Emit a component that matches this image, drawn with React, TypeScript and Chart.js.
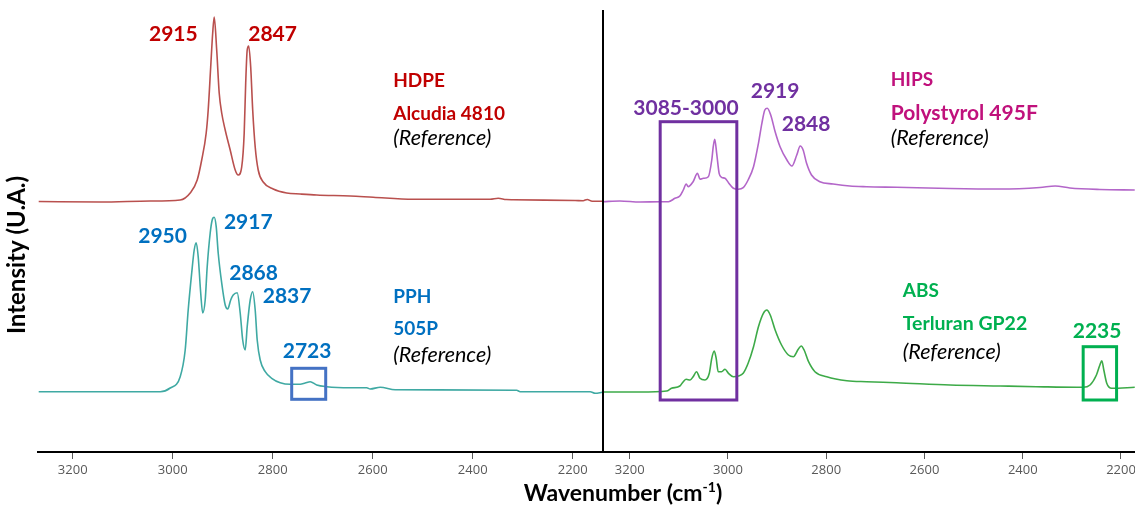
import React, { useEffect, useRef } from "react";
import { Chart, registerables } from "chart.js";

Chart.register(...registerables);

// ---- Data (wavenumber cm-1, intensity a.u.) ----
const hdpeWavenumber = [3268, 3145, 3045, 2985, 2965, 2951, 2942, 2933, 2929, 2924, 2920, 2917, 2912, 2907, 2902, 2895, 2885, 2875, 2869, 2862, 2857, 2854, 2851, 2848, 2844, 2840, 2835, 2829, 2819, 2799, 2772, 2745, 2712, 2645, 2599, 2519, 2365, 2349, 2333, 2319, 2195, 2179, 2171, 2161, 2141];
const hdpeIntensity = [249.5, 249, 250, 251, 258, 271, 291, 318, 341, 384, 418, 434, 401, 358, 338, 321, 301, 281, 276, 284, 318, 368, 401, 405, 384, 341, 304, 281, 269, 262, 258, 257, 256, 255, 253.7, 251.7, 251.7, 252.7, 251.5, 251.3, 250.5, 250.3, 251.5, 249.7, 249.7];

const pphWavenumber = [3268, 3145, 3025, 3005, 2985, 2975, 2969, 2962, 2957, 2953, 2949, 2944, 2940, 2935, 2931, 2925, 2921, 2917, 2913, 2909, 2902, 2895, 2890, 2884, 2879, 2871, 2865, 2860, 2855, 2851, 2845, 2840, 2835, 2831, 2825, 2815, 2802, 2785, 2765, 2745, 2735, 2725, 2712, 2692, 2645, 2612, 2605, 2585, 2555, 2312, 2305, 2165, 2155, 2141];
const pphIntensity = [59.3, 59.3, 59.3, 63, 74.3, 101, 141, 178, 201, 208.3, 194.3, 158, 138, 151, 184.3, 218, 231, 233.7, 224.3, 198, 168, 146, 142, 151, 156, 158.3, 138, 111, 101, 124.3, 151, 159.3, 141, 111, 91, 79.3, 72.7, 68.3, 66.7, 66.7, 68, 69.3, 66, 64.3, 63.3, 63.3, 62, 63.7, 61.3, 60.7, 59.3, 59.3, 57.7, 58.7];

const hipsWavenumber = [3254, 3220, 3179, 3138, 3121, 3108, 3098, 3091, 3085, 3081, 3071, 3062, 3057, 3050, 3040, 3033, 3030, 3027, 3023, 3018, 3013, 3006, 2999, 2989, 2979, 2969, 2959, 2948, 2938, 2931, 2925, 2920, 2913, 2904, 2894, 2880, 2870, 2860, 2853, 2847, 2840, 2830, 2813, 2786, 2752, 2718, 2657, 2548, 2446, 2365, 2334, 2304, 2243, 2172];
const hipsIntensity = [249.3, 250, 249, 249.3, 249.3, 252.7, 255, 261, 267, 264.3, 269.3, 277.7, 271.7, 272.7, 274.3, 291, 304.3, 311.7, 297.7, 277.7, 273.7, 272.7, 268.3, 262.7, 261.7, 263.3, 271, 284.3, 307.7, 327.7, 341, 342.7, 336, 319.3, 304.3, 291, 285, 296, 305, 301, 287.7, 276, 269.3, 267, 265, 264.3, 263.7, 262.5, 262, 263.5, 265, 263, 261.5, 261];

const absWavenumber = [3254, 3179, 3125, 3115, 3098, 3091, 3085, 3077, 3071, 3064, 3057, 3047, 3038, 3033, 3028, 3024, 3020, 3013, 3006, 2999, 2989, 2979, 2969, 2959, 2948, 2938, 2928, 2921, 2914, 2904, 2891, 2877, 2867, 2857, 2851, 2845, 2836, 2823, 2799, 2758, 2718, 2657, 2548, 2446, 2372, 2290, 2277, 2263, 2250, 2243, 2239, 2235, 2229, 2219, 2172];
const absIntensity = [59, 59, 60, 62.7, 65, 69.3, 71.7, 71, 74.3, 79.3, 72.7, 71, 77.7, 92.7, 100, 92.7, 79.3, 79.3, 81.7, 77.7, 74.3, 75, 77.7, 87.7, 104.3, 124.3, 137.7, 141, 136, 121, 106, 96, 94.3, 101.7, 105, 101, 89.3, 79.3, 74.3, 70.3, 69.3, 68.3, 66, 65, 64.3, 63.7, 63.7, 66, 76, 86, 90.3, 81, 67.7, 62.7, 63.7];

const xTickValues = [3200, 3000, 2800, 2600, 2400, 2200];
const leftRange = { min: 2139.4, max: 3269.4 };
const rightRange = { min: 2171.5, max: 3254.4 };
const yRange = { min: -1, max: 441 };

// ---- Annotations (anchored in data coordinates) ----
const RED = "#c00000";
const BLUE = "#0070c0";
const PURPLE = "#7030a0";
const MAGENTA = "#c0117c";
const GREEN = "#00b050";
const BLACK = "#000000";

const textLabels = [
  { text: "2915", axis: "xL", wn: 3047.5, y: 410, color: RED, size: 21, bold: true },
  { text: "2847", axis: "xL", wn: 2849, y: 410, color: RED, size: 21, bold: true },
  { text: "HDPE", axis: "xL", wn: 2559, y: 364.3, color: RED, size: 19, bold: true },
  { text: "Alcudia 4810", axis: "xL", wn: 2559, y: 331, color: RED, size: 19, bold: true },
  { text: "(Reference)", axis: "xL", wn: 2559, y: 306, color: BLACK, size: 21.5, italic: true },
  { text: "2950", axis: "xL", wn: 3069, y: 208.3, color: BLUE, size: 21, bold: true },
  { text: "2917", axis: "xL", wn: 2897.6, y: 221.7, color: BLUE, size: 21, bold: true },
  { text: "2868", axis: "xL", wn: 2887, y: 171, color: BLUE, size: 21, bold: true },
  { text: "2837", axis: "xL", wn: 2820, y: 148.3, color: BLUE, size: 21, bold: true },
  { text: "2723", axis: "xL", wn: 2780, y: 92.7, color: BLUE, size: 21, bold: true },
  { text: "PPH", axis: "xL", wn: 2559, y: 147.7, color: BLUE, size: 19, bold: true },
  { text: "505P", axis: "xL", wn: 2559, y: 116, color: BLUE, size: 19, bold: true },
  { text: "(Reference)", axis: "xL", wn: 2559, y: 89, color: BLACK, size: 21.5, italic: true },
  { text: "3085-3000", axis: "xR", wn: 3192.7, y: 336, color: PURPLE, size: 21, bold: true },
  { text: "2919", axis: "xR", wn: 2953.7, y: 353.3, color: PURPLE, size: 21, bold: true },
  { text: "2848", axis: "xR", wn: 2890.6, y: 320.3, color: PURPLE, size: 21, bold: true },
  { text: "HIPS", axis: "xR", wn: 2668.8, y: 365, color: MAGENTA, size: 19, bold: true },
  { text: "Polystyrol 495F", axis: "xR", wn: 2668.8, y: 331.5, color: MAGENTA, size: 21, bold: true },
  { text: "(Reference)", axis: "xR", wn: 2668.8, y: 306, color: BLACK, size: 21.5, italic: true },
  { text: "ABS", axis: "xR", wn: 2644.3, y: 153.7, color: GREEN, size: 19, bold: true },
  { text: "Terluran GP22", axis: "xR", wn: 2644.3, y: 121, color: GREEN, size: 19.5, bold: true },
  { text: "(Reference)", axis: "xR", wn: 2644.3, y: 91.7, color: BLACK, size: 21.5, italic: true },
  { text: "2235", axis: "xR", wn: 2298.3, y: 112.7, color: GREEN, size: 21, bold: true },
];

const highlightBoxes = [
  { axis: "xL", wn1: 2762, wn2: 2694, y1: 82.7, y2: 51.7, color: "#4472c4" },
  { axis: "xR", wn1: 3138, wn2: 2982, y1: 329.3, y2: 51, color: "#7030a0" },
  { axis: "xR", wn1: 2277, wn2: 2209, y1: 104.3, y2: 51, color: "#00b050" },
];

const FONT = "Lato, 'Open Sans', sans-serif";

const toPoints = (xs: number[], ys: number[]) => xs.map((x, i) => ({ x, y: ys[i] }));

const overlayPlugin = {
  id: "overlay",
  afterDatasetsDraw(chart: any) {
    const { ctx, chartArea, scales } = chart;
    const yS = scales.y;
    ctx.save();
    // divider between the two panels
    const xr = scales.xR;
    ctx.strokeStyle = "#000";
    ctx.lineWidth = 2;
    ctx.beginPath();
    ctx.moveTo(xr.left, chartArea.top);
    ctx.lineTo(xr.left, chartArea.bottom);
    ctx.stroke();

    // boxes
    for (const b of highlightBoxes) {
      const s = scales[b.axis];
      const x1 = s.getPixelForValue(b.wn1);
      const x2 = s.getPixelForValue(b.wn2);
      const y1 = yS.getPixelForValue(b.y1);
      const y2 = yS.getPixelForValue(b.y2);
      ctx.strokeStyle = b.color;
      ctx.lineWidth = 3;
      ctx.strokeRect(Math.min(x1, x2), Math.min(y1, y2), Math.abs(x2 - x1), Math.abs(y2 - y1));
    }

    // text labels
    ctx.textAlign = "left";
    ctx.textBaseline = "alphabetic";
    for (const l of textLabels as any[]) {
      const s = scales[l.axis];
      ctx.font = `${l.italic ? "italic " : ""}${l.bold ? "bold " : ""}${l.size}px ${FONT}`;
      ctx.fillStyle = l.color;
      ctx.fillText(l.text, s.getPixelForValue(l.wn), yS.getPixelForValue(l.y));
    }

    // x-axis title with superscript
    const base = "Wavenumber (cm";
    const sup = "-1";
    const end = ")";
    ctx.fillStyle = "#000";
    ctx.font = `bold 23px ${FONT}`;
    const wBase = ctx.measureText(base).width;
    const wEnd = ctx.measureText(end).width;
    ctx.font = `bold 14px ${FONT}`;
    const wSup = ctx.measureText(sup).width;
    const total = wBase + wSup + wEnd;
    const cx = chartArea.left + 585;
    let x = cx - total / 2;
    const by = 501;
    ctx.font = `bold 23px ${FONT}`;
    ctx.fillText(base, x, by);
    x += wBase;
    ctx.font = `bold 14px ${FONT}`;
    ctx.fillText(sup, x, by - 9);
    x += wSup;
    ctx.font = `bold 23px ${FONT}`;
    ctx.fillText(end, x, by);

    // y-axis title
    ctx.save();
    ctx.translate(25, 255);
    ctx.rotate(-Math.PI / 2);
    ctx.textAlign = "center";
    ctx.font = `bold 24px ${FONT}`;
    ctx.fillText("Intensity (U.A.)", 0, 0);
    ctx.restore();

    ctx.restore();
  },
};

function makeXScale(range: { min: number; max: number }, weight: number) {
  return {
    type: "linear",
    position: "bottom",
    stack: "wavenumber",
    stackWeight: weight,
    reverse: true,
    min: range.min,
    max: range.max,
    afterBuildTicks: (s: any) => {
      s.ticks = xTickValues.map((v) => ({ value: v }));
    },
    afterFit: (s: any) => {
      s.height = 54;
      s.paddingLeft = 0;
      s.paddingRight = 0;
    },
    grid: {
      drawOnChartArea: false,
      drawTicks: true,
      tickLength: 7,
      color: "#595959",
      lineWidth: 1,
    },
    border: { display: true, color: "#000", width: 2 },
    ticks: {
      autoSkip: false,
      maxRotation: 0,
      padding: 3,
      color: "#595959",
      font: { family: "'Open Sans', sans-serif", size: 13 },
      callback: (v: any) => String(v),
    },
  };
}

export default function App() {
  const canvasRef = useRef<HTMLCanvasElement | null>(null);

  useEffect(() => {
    if (!canvasRef.current) return;
    const lineStyle = { pointRadius: 0, borderWidth: 1.6, cubicInterpolationMode: "monotone", fill: false };
    const chart = new Chart(canvasRef.current, {
      type: "line",
      data: {
        datasets: [
          { label: "HDPE", data: toPoints(hdpeWavenumber, hdpeIntensity), xAxisID: "xL", yAxisID: "y", borderColor: "#b9504e", ...lineStyle },
          { label: "PPH", data: toPoints(pphWavenumber, pphIntensity), xAxisID: "xL", yAxisID: "y", borderColor: "#3fa9a3", ...lineStyle },
          { label: "HIPS", data: toPoints(hipsWavenumber, hipsIntensity), xAxisID: "xR", yAxisID: "y", borderColor: "#b366c9", ...lineStyle },
          { label: "ABS", data: toPoints(absWavenumber, absIntensity), xAxisID: "xR", yAxisID: "y", borderColor: "#3daa48", ...lineStyle },
        ] as any,
      },
      options: {
        animation: false,
        responsive: false,
        layout: { padding: { left: 38, top: 10, right: 0, bottom: 0 } },
        plugins: { legend: { display: false }, tooltip: { enabled: false } },
        scales: {
          xL: makeXScale(leftRange, 565) as any,
          xR: makeXScale(rightRange, 532) as any,
          y: { display: false, min: yRange.min, max: yRange.max },
        },
      },
      plugins: [overlayPlugin],
    });
    return () => chart.destroy();
  }, []);

  return (
    <div style={{ position: "fixed", left: 0, top: 0, width: 1135, height: 506, background: "#fff" }}>
      <canvas ref={canvasRef} width={1135} height={506} style={{ display: "block" }} />
    </div>
  );
}
